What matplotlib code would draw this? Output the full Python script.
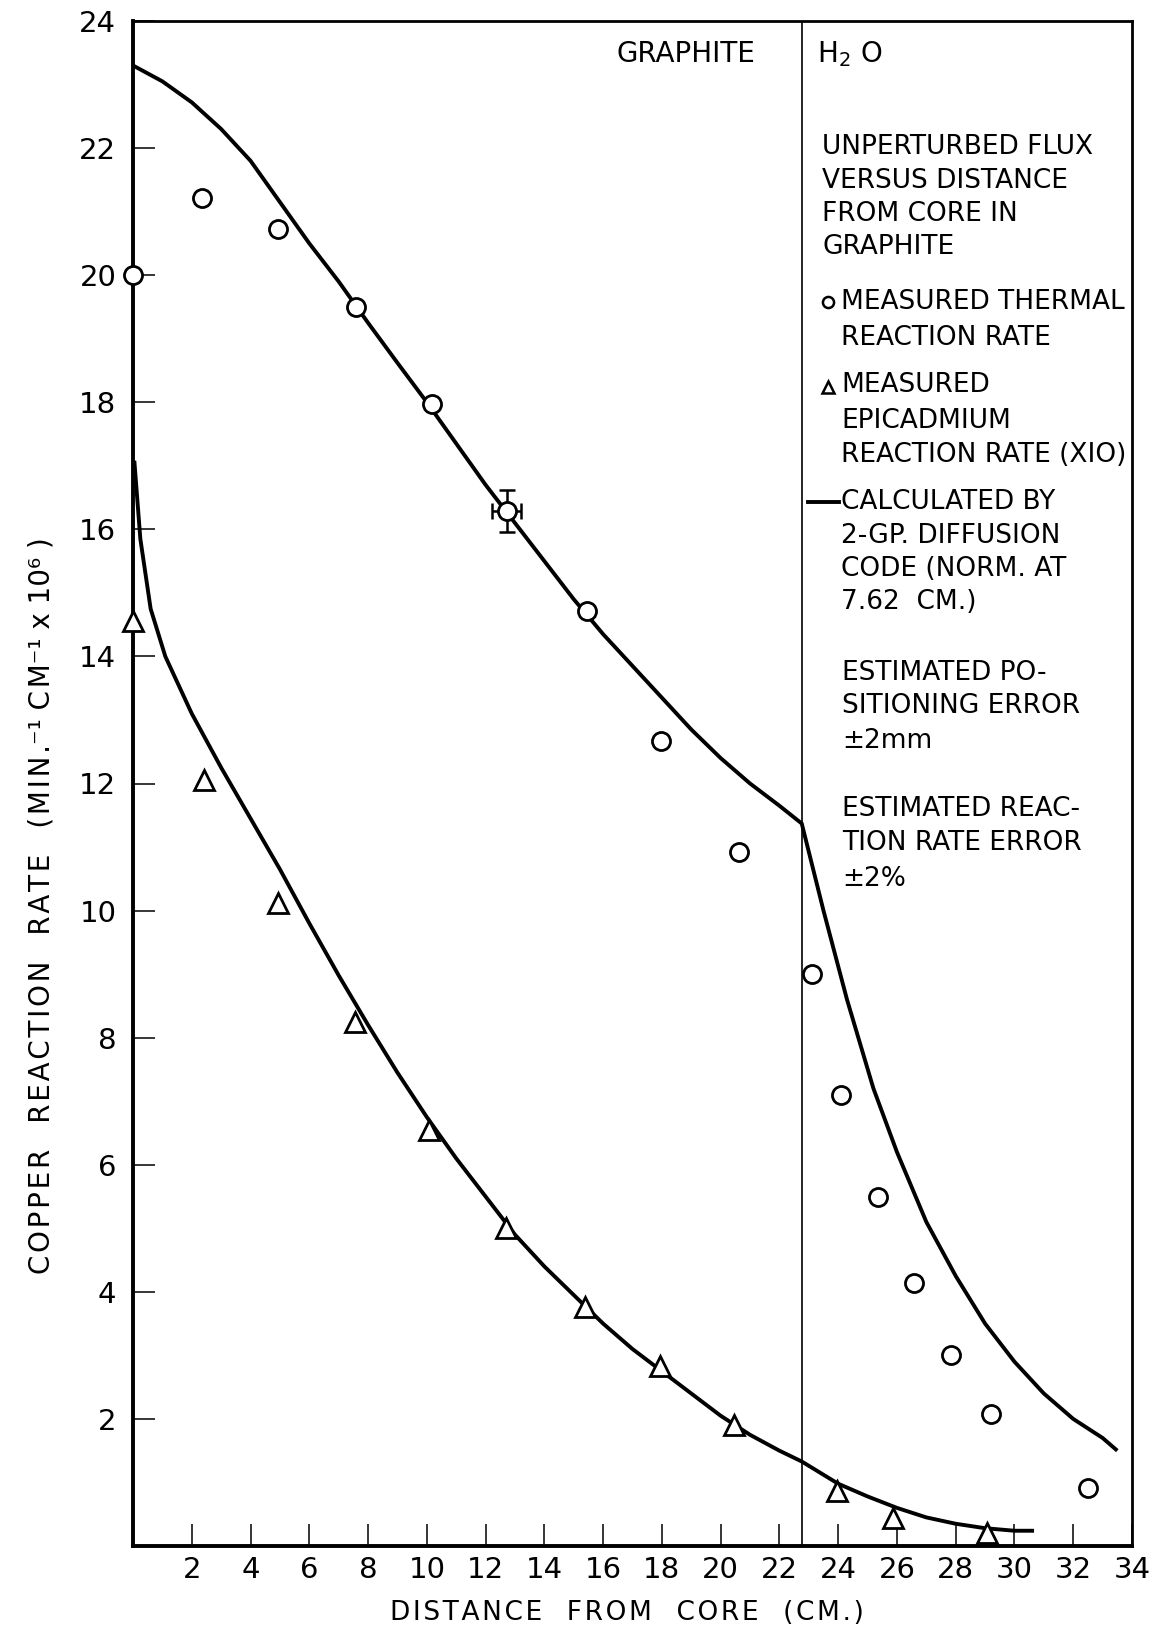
"""Copper reaction rate vs distance from core (graphite / H2O traverse)."""

import matplotlib
matplotlib.use("Agg")
import matplotlib.pyplot as plt

# measured thermal reaction rate (open circles)
thermal_x = [0.0, 2.35, 4.95, 7.6, 10.18, 12.72, 15.45, 17.96, 20.61,
             23.12, 24.1, 25.35, 26.58, 27.85, 29.2, 32.5]
thermal_y = [20.0, 21.22, 20.72, 19.5, 17.98, 16.29, 14.72, 12.67, 10.92,
             9.0, 7.1, 5.5, 4.14, 3.0, 2.08, 0.92]

# measured epicadmium reaction rate x10 (open triangles)
epi_x = [0.0, 2.4, 4.93, 7.56, 10.07, 12.69, 15.38, 17.92, 20.47,
         23.97, 25.87, 29.06]
epi_y = [14.55, 12.05, 10.12, 8.25, 6.55, 5.0, 3.76, 2.84, 1.9,
         0.86, 0.44, 0.2]

# calculated by 2-group diffusion code
calc_thermal_x = [0.0, 1.0, 2.0, 3.0, 4.0, 5.0, 6.0, 7.0, 8.0, 9.0, 10.0,
                  11.0, 12.0, 13.0, 14.0, 15.0, 16.0, 17.0, 18.0, 19.0,
                  20.0, 21.0, 22.0, 22.76, 23.5, 24.3, 25.2, 26.0, 27.0,
                  28.0, 29.0, 30.0, 31.0, 32.0, 33.0, 33.45]
calc_thermal_y = [23.3, 23.05, 22.72, 22.3, 21.8, 21.15, 20.5, 19.9,
                  19.25, 18.62, 18.0, 17.35, 16.7, 16.1, 15.5, 14.9, 14.35,
                  13.85, 13.35, 12.85, 12.4, 12.0, 11.65, 11.37, 10.0, 8.6,
                  7.2, 6.2, 5.1, 4.25, 3.5, 2.9, 2.4, 2.0, 1.7, 1.52]
calc_epi_x = [0.05, 0.25, 0.6, 1.1, 2.0, 3.0, 4.0, 5.0, 6.0, 7.0, 8.0, 9.0,
              10.0, 11.0, 12.0, 13.0, 14.0, 15.0, 16.0, 17.0, 18.0, 19.0,
              20.0, 21.0, 22.0, 22.76, 24.0, 25.0, 26.0, 27.0, 28.0, 29.0,
              30.0, 30.6]
calc_epi_y = [17.05, 15.85, 14.75, 14.0, 13.1, 12.25, 11.45, 10.65, 9.8,
              8.98, 8.2, 7.45, 6.75, 6.1, 5.5, 4.9, 4.4, 3.95, 3.5, 3.1,
              2.75, 2.4, 2.05, 1.75, 1.5, 1.33, 0.98, 0.78, 0.6, 0.45, 0.35,
              0.28, 0.24, 0.24]

# single point carrying the error bars
err_x, err_y = 12.72, 16.29
err_dx, err_dy = 0.5, 0.33

boundary_x = 22.76

x_ticks = list(range(2, 35, 2))
y_ticks = list(range(2, 25, 2))

legend_lines = [
    ("UNPERTURBED FLUX", 147), ("VERSUS DISTANCE", 181),
    ("FROM CORE IN", 214), ("GRAPHITE", 247),
]
entry_lines = [
    ("MEASURED THERMAL", 302), ("REACTION RATE", 338),
    ("MEASURED", 385), ("EPICADMIUM", 421), ("REACTION RATE (XIO)", 455),
    ("CALCULATED BY", 502), ("2-GP. DIFFUSION", 536),
    ("CODE (NORM. AT", 569), ("7.62  CM.)", 602),
]
note_lines = [
    ("ESTIMATED PO-", 673), ("SITIONING ERROR", 706), ("±2mm", 741),
    ("ESTIMATED REAC-", 809), ("TION RATE ERROR", 843), ("±2%", 879),
]

W, H = 1158, 1629
HAIR = "\u200a"
plt.rcParams["font.family"] = ["DejaVu Sans"]
fig = plt.figure(figsize=(W / 100, H / 100), dpi=100)
ax = fig.add_axes([133 / W, 1 - 1546 / H, (1132 - 133) / W, (1546 - 21) / H])


def fx(px):
    return px / W


def fy(py):
    return 1 - py / H


def spaced(s):
    # old lettering-guide text is set wide
    return HAIR.join(s)


lw = 2.8
ax.plot(calc_thermal_x, calc_thermal_y, color="black", lw=lw, zorder=2,
        solid_joinstyle="miter")
ax.plot(calc_epi_x, calc_epi_y, color="black", lw=lw, zorder=2)
ax.plot(thermal_x, thermal_y, ls="none", marker="o", ms=13, mew=2.0,
        mec="black", mfc="white", zorder=4, clip_on=False)
ax.plot(epi_x, epi_y, ls="none", marker="^", ms=14, mew=2.0,
        mec="black", mfc="white", zorder=4, clip_on=False)
ax.errorbar([err_x], [err_y], xerr=[err_dx], yerr=[err_dy], fmt="none",
            ecolor="black", elinewidth=1.8, capsize=6, capthick=1.8, zorder=3)
ax.axvline(boundary_x, color="black", lw=1.2, zorder=1)

ax.set_xlim(0, 34)
ax.set_ylim(0, 24)
ax.set_xticks(x_ticks)
ax.set_yticks(y_ticks)
ax.set_xticklabels([str(t) for t in x_ticks])
ax.set_yticklabels([str(t) for t in y_ticks])
ax.tick_params(direction="in", length=16, width=1.1, labelsize=21, color="black")
ax.tick_params(axis="x", pad=7)
ax.tick_params(axis="y", pad=12)
ax.tick_params(top=False, right=False)
for side in ("left", "bottom"):
    ax.spines[side].set_linewidth(2.8)
for side in ("top", "right"):
    ax.spines[side].set_linewidth(2.0)

fig.text(fx(627), fy(1613), spaced("DISTANCE  FROM  CORE  (CM.)"),
         ha="center", va="center", fontsize=19)
ylabel = (spaced("COPPER  REACTION  RATE  (MIN.") + "\u207b\u00b9 "
          + spaced("CM") + "\u207b\u00b9 x 10\u2076 )")
fig.text(fx(42), fy(906), ylabel, rotation=90, ha="center", va="center",
         fontsize=20)

fig.text(fx(755), fy(54), "GRAPHITE", ha="right", va="center", fontsize=20)
fig.text(fx(817), fy(54), r"H$_2$ O", ha="left", va="center", fontsize=20)

for txt, py in legend_lines:
    fig.text(fx(822), fy(py), txt, ha="left", va="center", fontsize=19)
for txt, py in entry_lines:
    fig.text(fx(841), fy(py), txt, ha="left", va="center", fontsize=19)
for txt, py in note_lines:
    fig.text(fx(842), fy(py), txt, ha="left", va="center", fontsize=19)

# legend symbols
fig.lines.append(plt.Line2D([fx(828)], [fy(302)], marker="o", ms=8, mew=1.8,
                            mec="black", mfc="white", transform=fig.transFigure))
fig.lines.append(plt.Line2D([fx(828)], [fy(387)], marker="^", ms=8, mew=1.8,
                            mec="black", mfc="white", transform=fig.transFigure))
fig.lines.append(plt.Line2D([fx(808), fx(839)], [fy(502), fy(502)], lw=2.8,
                            color="black", transform=fig.transFigure))

fig.savefig("out.png", dpi=100)
